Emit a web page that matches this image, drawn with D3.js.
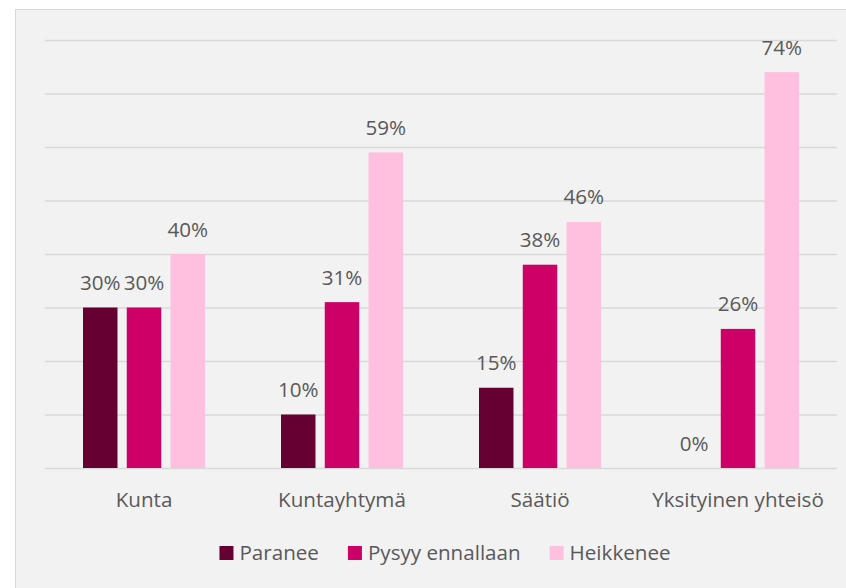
<!DOCTYPE html>
<html>
<head>
<meta charset="utf-8">
<script src="https://cdn.jsdelivr.net/npm/d3@7"></script>
<style>
  html, body { margin: 0; padding: 0; background: #ffffff; }
  svg { display: block; font-family: "Open Sans", sans-serif; }
</style>
</head>
<body>
<svg id="chart"></svg>
<script>
const width = 846;
const height = 588;

// data
const categories = ["Kunta", "Kuntayhtymä", "Säätiö", "Yksityinen yhteisö"];
const seriesNames = ["Paranee", "Pysyy ennallaan", "Heikkenee"];
const paranee = [30, 10, 15, 0];
const pysyy = [30, 31, 38, 26];
const heikkenee = [40, 59, 46, 74];
const yTicks = [0, 10, 20, 30, 40, 50, 60, 70, 80];

const seriesValues = [paranee, pysyy, heikkenee];
const colors = ["#660033", "#cc0066", "#ffc0e0"];
const textColor = "#595959";
const fontSize = 20.6;

const svg = d3.select("#chart")
  .attr("width", width)
  .attr("height", height);

// chart area background + border
svg.append("rect")
  .attr("x", 15.5)
  .attr("y", 9.5)
  .attr("width", width)
  .attr("height", height)
  .attr("fill", "#f2f2f2")
  .attr("stroke", "#d9d9d9")
  .attr("stroke-width", 1);

const plot = { left: 45, right: 837, top: 40, bottom: 468 };

const x0 = d3.scaleBand()
  .domain(categories)
  .range([plot.left, plot.right]);

const groupWidth = 122;
const x1 = d3.scaleBand()
  .domain(seriesNames)
  .range([(x0.bandwidth() - groupWidth) / 2, (x0.bandwidth() + groupWidth) / 2])
  .paddingInner(0.212);

const y = d3.scaleLinear()
  .domain([0, 80])
  .range([plot.bottom, plot.top]);

// gridlines
svg.append("g")
  .attr("class", "grid")
  .attr("transform", `translate(${plot.left},0)`)
  .call(d3.axisLeft(y).tickValues(yTicks).tickSize(-(plot.right - plot.left)).tickFormat(""))
  .call(g => g.select(".domain").remove())
  .call(g => g.selectAll("line").attr("stroke", "#d9d9d9").attr("stroke-width", 1.3));

// bars
const rows = categories.map((c, i) => ({
  category: c,
  values: seriesNames.map((s, j) => ({ series: s, value: seriesValues[j][i], color: colors[j] }))
}));

const groups = svg.append("g")
  .selectAll("g")
  .data(rows)
  .join("g")
  .attr("transform", d => `translate(${x0(d.category)},0)`);

groups.selectAll("rect")
  .data(d => d.values)
  .join("rect")
  .attr("x", d => x1(d.series))
  .attr("y", d => y(d.value))
  .attr("width", x1.bandwidth())
  .attr("height", d => y(0) - y(d.value))
  .attr("fill", d => d.color);

groups.selectAll("text")
  .data(d => d.values)
  .join("text")
  .attr("x", d => x1(d.series) + x1.bandwidth() / 2)
  .attr("y", d => y(d.value) - 17.5)
  .attr("text-anchor", "middle")
  .attr("font-size", fontSize)
  .attr("fill", textColor)
  .text(d => `${d.value}%`);

// category axis labels
svg.append("g")
  .attr("transform", `translate(0,${plot.bottom})`)
  .call(d3.axisBottom(x0).tickSize(0).tickPadding(0))
  .call(g => g.select(".domain").remove())
  .call(g => g.selectAll("text")
    .attr("dy", null)
    .attr("y", 39)
    .attr("font-size", fontSize)
    .attr("font-family", "Open Sans, sans-serif")
    .attr("fill", textColor));

// legend, centred under the plot
const legend = svg.append("g").attr("class", "legend");
const items = legend.selectAll("g")
  .data(seriesNames)
  .join("g");

items.append("rect")
  .attr("width", 14)
  .attr("height", 14)
  .attr("y", -14)
  .attr("fill", (d, i) => colors[i]);

items.append("text")
  .attr("x", 20)
  .attr("y", 0)
  .attr("font-size", fontSize)
  .attr("fill", textColor)
  .text(d => d);

const widths = items.nodes().map(n => n.getBBox().width);
const total = d3.sum(widths) + 29 * (widths.length - 1);
let start = 445 - total / 2;
items.attr("transform", (d, i) => {
  const tx = start;
  start += widths[i] + 29;
  return `translate(${tx},560)`;
});
</script>
</body>
</html>
